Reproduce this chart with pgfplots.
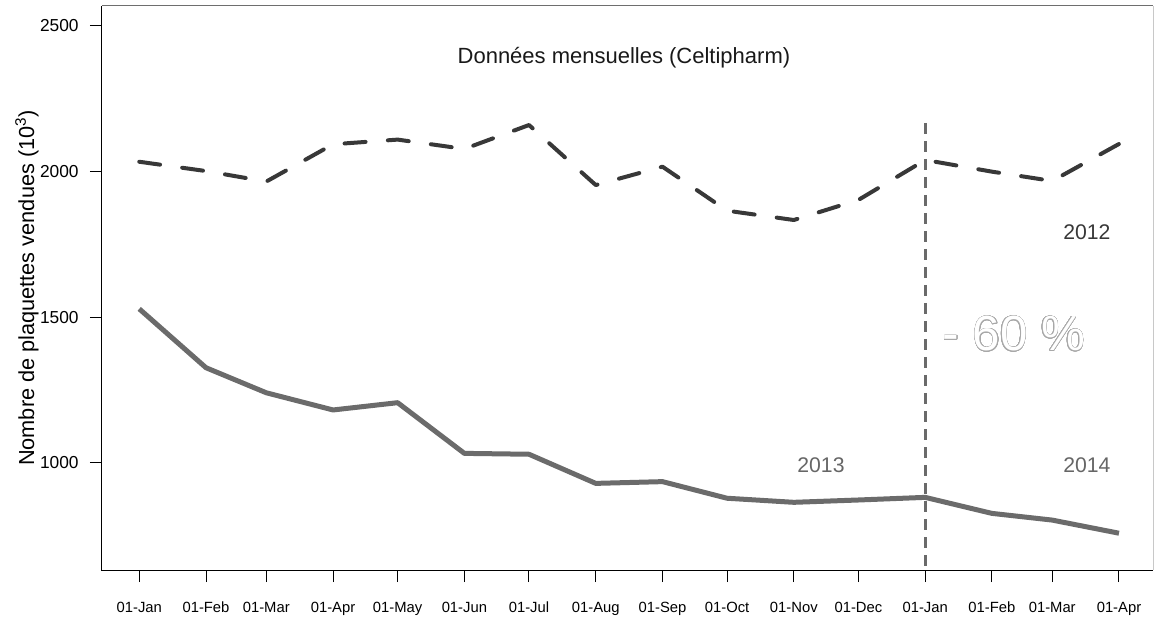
\documentclass[border=0pt]{standalone}
\usepackage{pgfplots}
\pgfplotsset{compat=1.18}
\usepackage{fontspec}
\setmainfont{Liberation Sans}
\usepackage{contour}
\contourlength{0.45pt}
\contournumber{32}
\definecolor{solidgray}{HTML}{6B6B6B}
\definecolor{dashgray}{HTML}{383838}
\definecolor{vgray}{HTML}{6A6A6A}
\definecolor{yeargray}{HTML}{666666}
\definecolor{outlinegray}{HTML}{A8A8A8}
\definecolor{topgray}{HTML}{6E6E6E}
\definecolor{rightgray}{HTML}{C8C8C8}
\begin{document}
\begin{tikzpicture}
\useasboundingbox (-76.5pt,-35.25pt) rectangle ++(867pt,462.75pt);
\begin{axis}[
  at={(0,0)}, anchor=south west,
  scale only axis, width=788.25pt, height=423pt,
  xmin=-17.3, xmax=470.8, ymin=632.7, ymax=2568.6,
  axis line style={draw=none},
  clip=false,
  xtick={0,31,59,90,120,151,181,212,243,273,304,334,365,396,424,455},
  xticklabels={01-Jan,01-Feb,01-Mar,01-Apr,01-May,01-Jun,01-Jul,01-Aug,01-Sep,01-Oct,01-Nov,01-Dec,01-Jan,01-Feb,01-Mar,01-Apr},
  ytick={1000,1500,2000,2500},
  tick align=outside, xtick pos=bottom, ytick pos=left,
  major tick length=9pt,
  tick style={black, line width=0.75pt},
  /pgf/number format/assume math mode=true,
  /pgf/number format/1000 sep={},
  scaled y ticks=false,
  xticklabel style={font=\fontsize{11.1}{12}\selectfont, yshift=-11.4pt},
  yticklabel style={font=\fontsize{13}{15}\selectfont, xshift=-5pt},
  every axis y label/.style={at={(rel axis cs:0,0.5)}, rotate=90, anchor=center, yshift=56.25pt, font=\fontsize{16.3}{18}\selectfont},
  ylabel={Nombre de plaquettes vendues (10\textsuperscript{3})},
]
% 2012 (dashed)
\addplot[dashgray, line width=3pt, line cap=round, line join=round, dash pattern=on 15.75pt off 16.75pt] coordinates {
(0,2034) (31,2002) (59,1966) (90,2094) (120,2110) (151,2078) (181,2160) (212,1954) (243,2017) (273,1866) (304,1834) (334,1903) (365,2040) (396,2000) (424,1968) (455,2095)
};
% 2013-2014 (solid)
\addplot[solidgray, line width=3.75pt, line join=round] coordinates {
(0,1529) (31,1327) (59,1241) (90,1182) (120,1207) (151,1033) (181,1030) (212,930) (243,936) (273,879) (304,865) (334,873) (365,882) (396,827) (424,804) (455,759)
};
% vertical separator
\addplot[vgray, line width=2.25pt, dash pattern=on 8.25pt off 5.25pt] coordinates {(365,2167) (365,640)};
% borders
\draw[black, line width=0.75pt] (rel axis cs:0,1) -- (rel axis cs:0,0) -- (rel axis cs:1,0);
\draw[topgray, line width=0.75pt] (rel axis cs:0,1) -- (rel axis cs:1,1);
\draw[rightgray, line width=0.75pt] (rel axis cs:1,1) -- (rel axis cs:1,0);
% texts
\node[font=\fontsize{16.5}{18}\selectfont, text=black!90] at (axis cs:225.1,2390) {Données mensuelles (Celtipharm)};
\node[font=\fontsize{15.9}{18}\selectfont, text=dashgray] at (axis cs:440.1,1793) {2012};
\node[font=\fontsize{15.9}{18}\selectfont, text=yeargray] at (axis cs:316.6,993) {2013};
\node[font=\fontsize{15.9}{18}\selectfont, text=yeargray] at (axis cs:440.1,993) {2014};
\node[font=\fontsize{37}{40}\selectfont] at (axis cs:406.2,1443) {\contour{outlinegray}{\textcolor{white}{- 60 \%}}};
\end{axis}
\end{tikzpicture}
\end{document}
